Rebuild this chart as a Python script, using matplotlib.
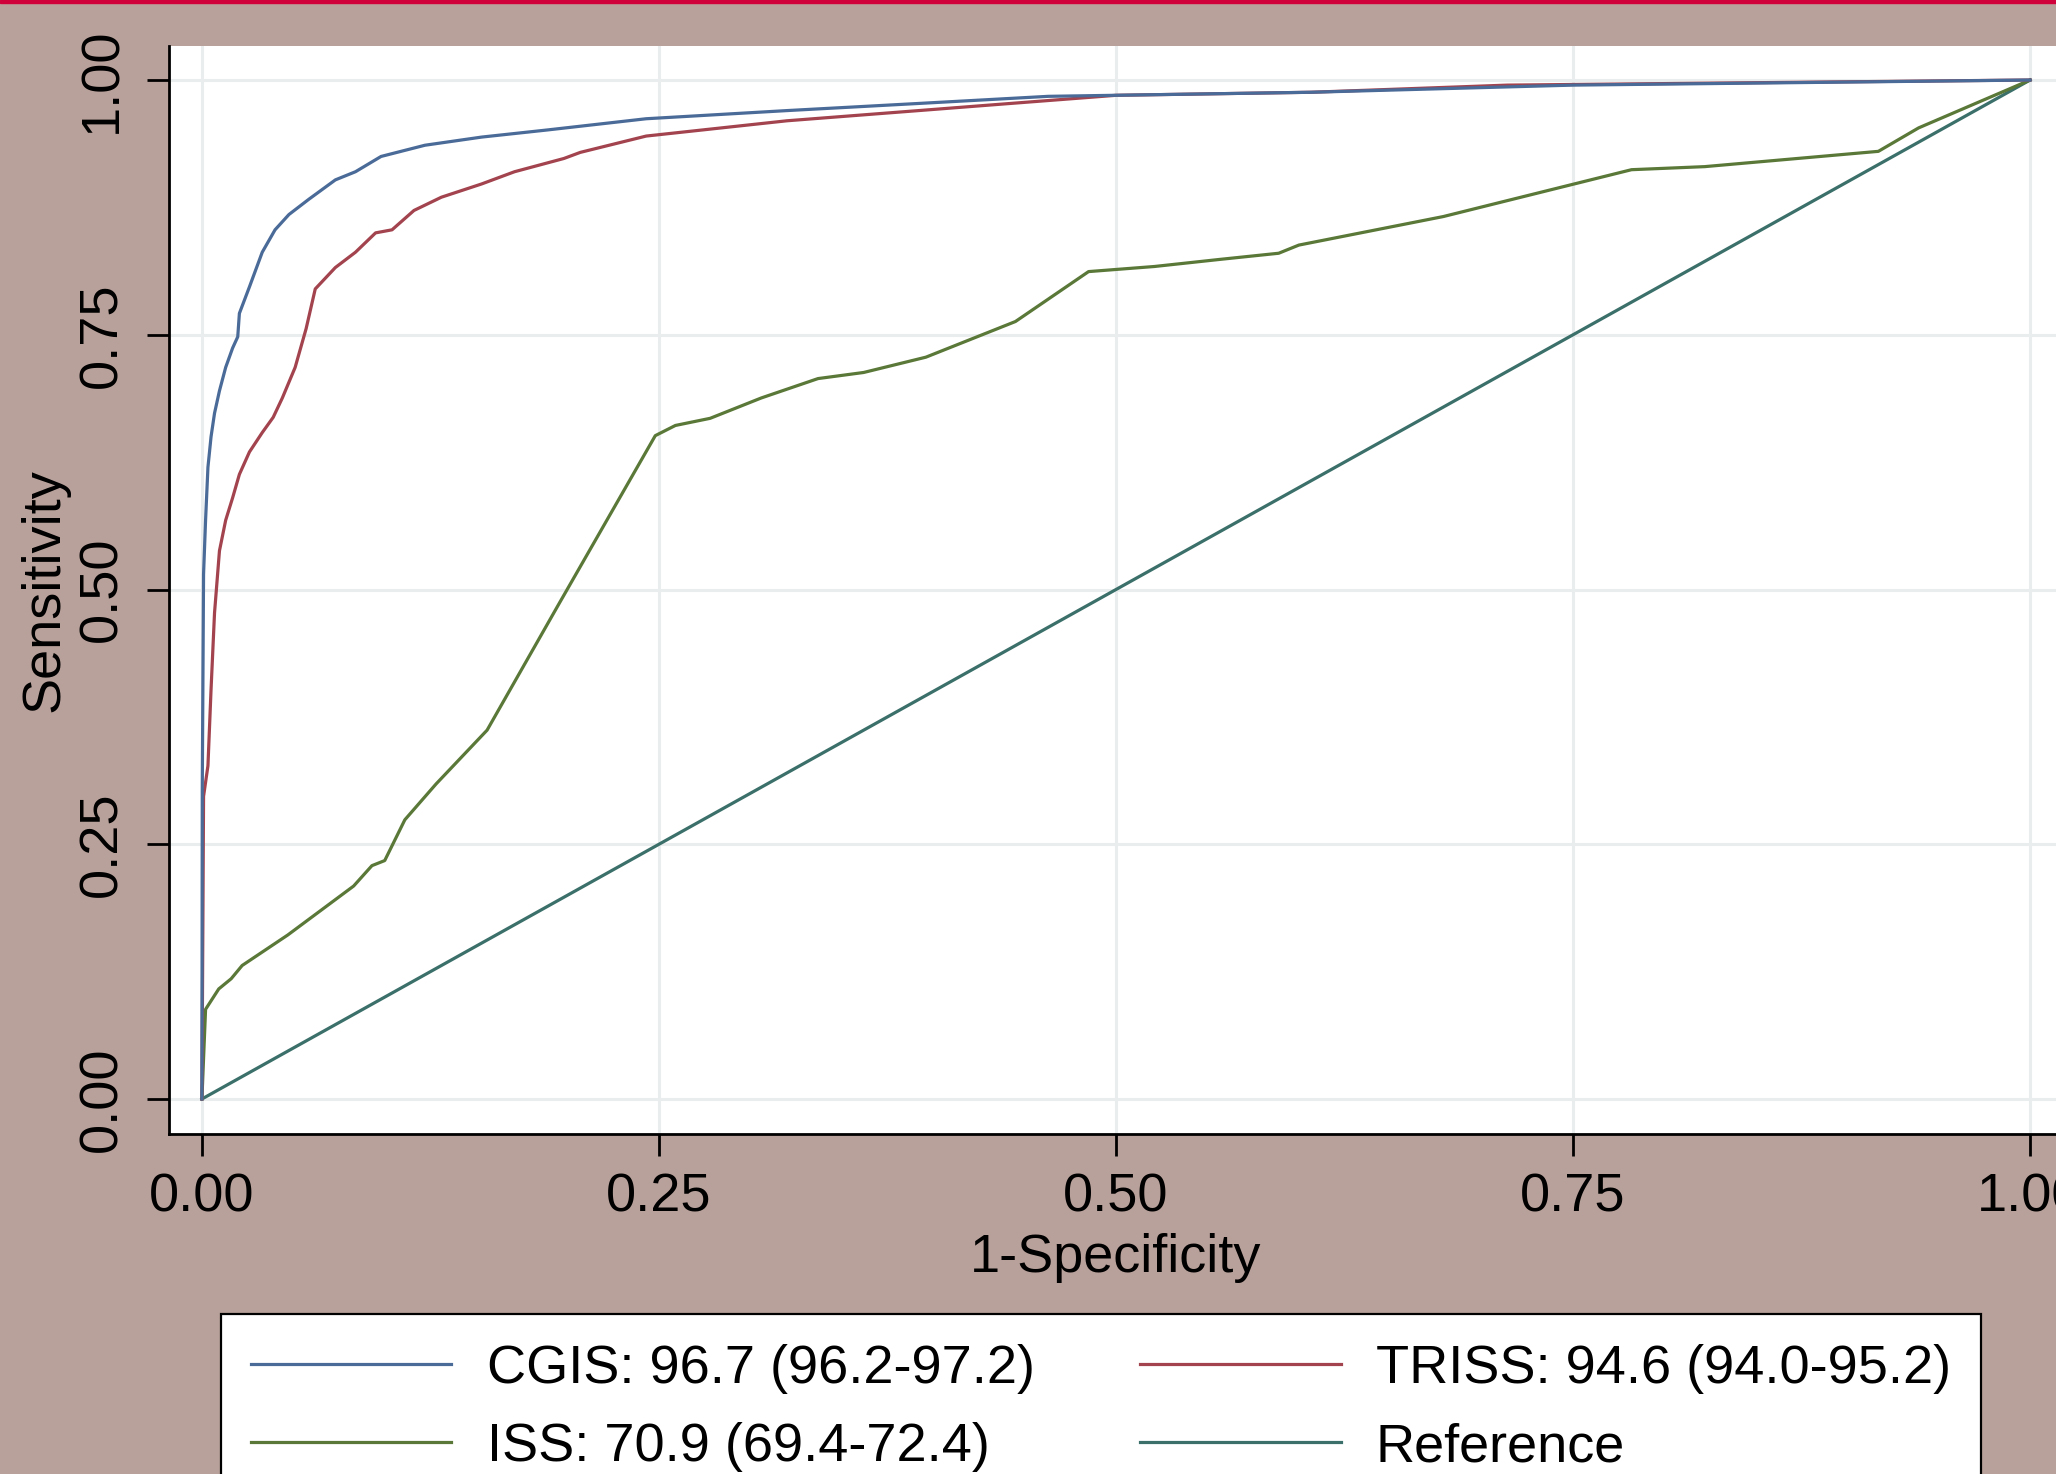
import matplotlib.pyplot as plt

# ROC curves (1-specificity, sensitivity)
cgis_fpr = [0, 0.0002, 0.0009, 0.002, 0.0033, 0.005, 0.0069, 0.0096, 0.013, 0.0168,
            0.0196, 0.0205, 0.026, 0.033, 0.040, 0.0476, 0.0585, 0.073, 0.084, 0.098,
            0.122, 0.153, 0.189, 0.243, 0.32, 0.392, 0.463, 0.607, 0.75, 1.0]
cgis_tpr = [0, 0.305, 0.515, 0.568, 0.620, 0.650, 0.673, 0.695, 0.718, 0.737,
            0.748, 0.771, 0.797, 0.831, 0.853, 0.868, 0.883, 0.902, 0.910, 0.925,
            0.936, 0.944, 0.951, 0.962, 0.970, 0.977, 0.984, 0.988, 0.995, 1.0]

triss_fpr = [0, 0.0009, 0.0033, 0.005, 0.0069, 0.0096, 0.013, 0.0168, 0.0205, 0.026,
             0.033, 0.039, 0.044, 0.051, 0.057, 0.062, 0.073, 0.084, 0.095, 0.104,
             0.116, 0.131, 0.153, 0.171, 0.198, 0.207, 0.243, 0.32, 0.392, 0.435,
             0.5, 0.607, 0.714, 1.0]
triss_tpr = [0, 0.297, 0.327, 0.402, 0.477, 0.538, 0.568, 0.590, 0.613, 0.635,
             0.654, 0.669, 0.688, 0.718, 0.756, 0.795, 0.816, 0.831, 0.850, 0.853,
             0.872, 0.885, 0.898, 0.910, 0.923, 0.929, 0.945, 0.960, 0.970, 0.976,
             0.985, 0.988, 0.995, 1.0]

iss_fpr = [0, 0.002, 0.0092, 0.016, 0.022, 0.047, 0.083, 0.093, 0.100, 0.111,
           0.128, 0.156, 0.195, 0.248, 0.259, 0.278, 0.306, 0.337, 0.362, 0.396,
           0.445, 0.485, 0.521, 0.557, 0.589, 0.600, 0.679, 0.782, 0.822, 0.917,
           0.939, 1.0]
iss_tpr = [0, 0.088, 0.108, 0.118, 0.131, 0.161, 0.209, 0.229, 0.234, 0.274,
           0.309, 0.362, 0.485, 0.651, 0.661, 0.668, 0.688, 0.707, 0.713, 0.728,
           0.763, 0.812, 0.817, 0.824, 0.830, 0.838, 0.866, 0.912, 0.915, 0.930,
           0.953, 1.0]

ref_fpr = [0, 1]
ref_tpr = [0, 1]

labels = ['CGIS: 96.7 (96.2-97.2)', 'TRISS: 94.6 (94.0-95.2)',
          'ISS: 70.9 (69.4-72.4)', 'Reference']
ticks = [0, 0.25, 0.5, 0.75, 1.0]
tick_labels = ['0.00', '0.25', '0.50', '0.75', '1.00']

plt.rcParams['font.family'] = ['Liberation Sans', 'DejaVu Sans']
plt.rcParams['font.size'] = 39

fig = plt.figure(figsize=(20.56, 14.74), dpi=100, facecolor='#b9a19b')
ax = fig.add_axes([0.0822, 0.2307, 0.9212, 0.7381])
ax.set_facecolor('white')

lw = 2.3
h1, = ax.plot(cgis_fpr, cgis_tpr, color='#4a6a98', lw=lw, zorder=4)
h2, = ax.plot(triss_fpr, triss_tpr, color='#a2434e', lw=lw, zorder=3)
h3, = ax.plot(iss_fpr, iss_tpr, color='#5a7838', lw=lw, zorder=2)
h4, = ax.plot(ref_fpr, ref_tpr, color='#3b6f69', lw=lw, zorder=1)

ax.set_xlim(-0.018, 1.018)
ax.set_ylim(-0.0343, 1.0334)
ax.set_xticks(ticks)
ax.set_xticklabels(tick_labels)
ax.set_yticks(ticks)
ax.set_yticklabels(tick_labels, rotation=90, va='center')
ax.grid(True, color='#eaeded', lw=2.2, zorder=0)
ax.set_axisbelow(True)

for side in ['top', 'right']:
    ax.spines[side].set_visible(False)
for side in ['left', 'bottom']:
    ax.spines[side].set_linewidth(2)
ax.tick_params(axis='both', length=16, width=2, direction='out')
ax.tick_params(axis='x', pad=12)
ax.tick_params(axis='y', pad=14)

ax.set_xlabel('1-Specificity', labelpad=7)
ax.set_ylabel('Sensitivity', labelpad=6)

# two columns: CGIS / ISS on the left, TRISS / Reference on the right
leg = fig.legend([h1, h3, h2, h4], [labels[0], labels[2], labels[1], labels[3]],
                 ncol=2, loc='upper center', bbox_to_anchor=(0.5355, 0.1085),
                 borderaxespad=0, frameon=True, fancybox=False,
                 edgecolor='black', framealpha=1, handlelength=3.7,
                 handletextpad=0.65, columnspacing=1.95, labelspacing=0.52,
                 borderpad=0.55)
leg.get_frame().set_linewidth(1.6)

# red strip across the top edge
fig.patches.append(plt.Rectangle((0, 0.998), 1, 0.002, transform=fig.transFigure,
                                 color='#d0003a', zorder=10))

plt.savefig('out.png', dpi=100, facecolor=fig.get_facecolor())
plt.close()
